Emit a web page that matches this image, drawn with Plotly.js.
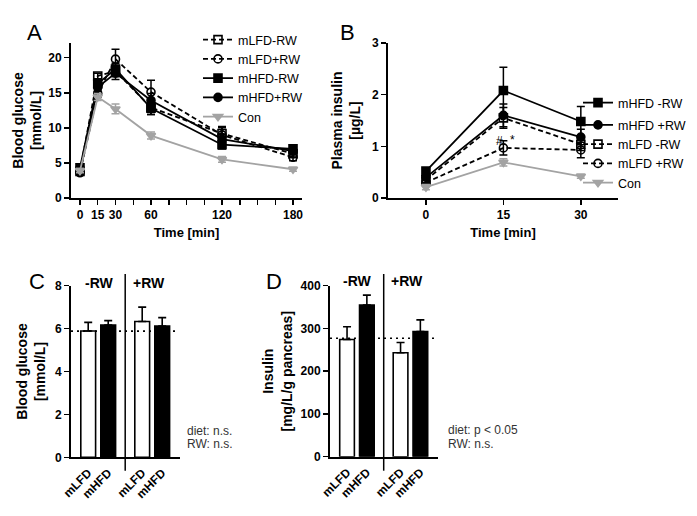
<!DOCTYPE html>
<html><head><meta charset="utf-8">
<script src="https://cdn.plot.ly/plotly-3.0.1.min.js"></script>
<style>html,body{margin:0;padding:0;background:#fff}#chart{width:697px;height:516px}</style>
</head><body><div id="chart"></div>
<script>
// ---- Panel A: blood glucose during GTT ----
const timeA = [0, 15, 30, 60, 120, 180];
const glucA_mLFD_minusRW = [3.8, 17.4, 18.1, 12.9, 9.2, 6.3];
const glucA_mLFD_plusRW  = [3.6, 14.9, 19.8, 15.1, 9.0, 5.8];
const glucA_mHFD_minusRW = [4.3, 16.3, 18.4, 12.8, 7.6, 7.0];
const glucA_mHFD_plusRW  = [3.7, 15.8, 17.8, 13.9, 8.4, 6.7];
const glucA_Con          = [3.9, 14.4, 12.7, 8.9, 5.5, 4.1];
const errA_mLFD_minusRW = [0.3, 0.4, 0.8, 1.0, 0.8, 0.5];
const errA_mLFD_plusRW  = [0.3, 0.5, 1.4, 1.7, 1.2, 0.5];
const errA_mHFD_minusRW = [0.4, 0.6, 0.8, 0.9, 0.6, 0.6];
const errA_mHFD_plusRW  = [0.3, 0.6, 0.9, 1.0, 0.7, 0.7];
const errA_Con          = [0.3, 0.5, 0.7, 0.5, 0.4, 0.3];
const tickA = [0, 15, 30, 45, 60, 75, 90, 105, 120, 135, 150, 165, 180];
const tickA_labels = ['0', '15', '30', '', '60', '', '', '', '120', '', '', '', '180'];

// ---- Panel B: plasma insulin ----
const timeB = [0, 15, 30];
const insB_mHFD_minusRW = [0.52, 2.08, 1.48];
const insB_mHFD_plusRW  = [0.40, 1.60, 1.18];
const insB_mLFD_minusRW = [0.35, 1.55, 1.04];
const insB_mLFD_plusRW  = [0.30, 0.97, 0.93];
const insB_Con          = [0.21, 0.69, 0.42];
const errB_mHFD_minusRW = [0.05, 0.45, 0.29];
const errB_mHFD_plusRW  = [0.05, 0.22, 0.15];
const errB_mLFD_minusRW = [0.05, 0.20, 0.12];
const errB_mLFD_plusRW  = [0.05, 0.14, 0.15];
const errB_Con          = [0.05, 0.07, 0.04];

// ---- Panels C & D: bars ----
const barDiet  = ['mLFD', 'mHFD', 'mLFD', 'mHFD'];
const barGroup = ['-RW', '-RW', '+RW', '+RW'];
const glucC     = [5.89, 6.16, 6.33, 6.12];
const glucC_err = [0.40, 0.21, 0.67, 0.39];
const glucC_ref = 5.88;
const insD      = [274, 355, 243, 293];
const insD_err  = [30, 23, 24, 27];
const insD_ref  = 277;

// ---- helpers ----
const FONT = 'Liberation Sans, Arial, sans-serif';
const GREY = '#a3a3a3';
const W = 697, H = 516;
const px = v => v / W, py = v => 1 - v / H;

function lineTrace(name, x, y, err, sym, dash, color, xa, ya, legend, group) {
  return {
    type: 'scatter', mode: 'lines+markers', name: name, x: x, y: y,
    xaxis: xa, yaxis: ya, legend: legend, legendgroup: group,
    line: {color: color, width: 1.8, dash: dash},
    marker: {symbol: sym, size: 8, color: color, line: {color: color, width: 1.6}},
    error_y: {type: 'data', array: err, visible: true, color: color, thickness: 1.5, width: 4},
    cliponaxis: false
  };
}
const DASH = '5px,3px';
const traces = [
  lineTrace('mLFD-RW', timeA, glucA_mLFD_minusRW, errA_mLFD_minusRW, 'square-open', DASH, '#000', 'x', 'y', 'legend', 'a'),
  lineTrace('mLFD+RW', timeA, glucA_mLFD_plusRW, errA_mLFD_plusRW, 'circle-open', DASH, '#000', 'x', 'y', 'legend', 'a'),
  lineTrace('mHFD-RW', timeA, glucA_mHFD_minusRW, errA_mHFD_minusRW, 'square', 'solid', '#000', 'x', 'y', 'legend', 'a'),
  lineTrace('mHFD+RW', timeA, glucA_mHFD_plusRW, errA_mHFD_plusRW, 'circle', 'solid', '#000', 'x', 'y', 'legend', 'a'),
  lineTrace('Con', timeA, glucA_Con, errA_Con, 'triangle-down', 'solid', GREY, 'x', 'y', 'legend', 'a'),

  lineTrace('mHFD -RW', timeB, insB_mHFD_minusRW, errB_mHFD_minusRW, 'square', 'solid', '#000', 'x2', 'y2', 'legend2', 'b1'),
  lineTrace('mHFD +RW', timeB, insB_mHFD_plusRW, errB_mHFD_plusRW, 'circle', 'solid', '#000', 'x2', 'y2', 'legend2', 'b2'),
  lineTrace('mLFD -RW', timeB, insB_mLFD_minusRW, errB_mLFD_minusRW, 'square-open', DASH, '#000', 'x2', 'y2', 'legend2', 'b2'),
  lineTrace('mLFD +RW', timeB, insB_mLFD_plusRW, errB_mLFD_plusRW, 'circle-open', DASH, '#000', 'x2', 'y2', 'legend2', 'b2'),
  lineTrace('Con', timeB, insB_Con, errB_Con, 'triangle-down', 'solid', GREY, 'x2', 'y2', 'legend2', 'b2')
];

// bar positions: two groups of two, separated by a gap
const GAP = 0.7;
const barPos = barGroup.map((g, i) => 1 + i + (i >= 2 ? GAP : 0));
const barFill = barDiet.map(d => d === 'mLFD' ? '#fff' : '#000');
function barTrace(y, err, xa, ya) {
  return {
    type: 'bar', x: barPos, y: y, xaxis: xa, yaxis: ya, width: 0.74, showlegend: false,
    marker: {color: barFill, line: {color: '#000', width: 1.6}},
    error_y: {type: 'data', array: err, arrayminus: err.map(() => 0), symmetric: false,
              visible: true, color: '#000', thickness: 1.6, width: 4}
  };
}
traces.push(barTrace(glucC, glucC_err, 'x3', 'y3'));
traces.push(barTrace(insD, insD_err, 'x4', 'y4'));

const tickFont = {family: FONT, size: 12, color: '#000', weight: 'bold'};
const titleFont = {family: FONT, size: 14, color: '#000', weight: 'bold'};
const axBase = {
  showline: true, linecolor: '#000', linewidth: 2, mirror: false,
  ticks: 'outside', ticklen: 5, tickwidth: 1.5, tickcolor: '#000',
  showgrid: false, zeroline: false, tickfont: tickFont, automargin: false, fixedrange: true
};
const barRange = [0.14, 5.59];
// category labels drawn by the axis itself, rotated 45 degrees
const barXaxis = (domain, anchor) => Object.assign({}, axBase, {
  domain: domain, anchor: anchor, range: barRange, tickmode: 'array',
  tickvals: barPos, ticktext: barDiet, ticks: 'outside', ticklen: 2, tickcolor: 'rgba(0,0,0,0)',
  showticklabels: true, tickangle: 315,
  tickfont: {family: FONT, size: 12, color: '#000', weight: 'bold'}
});

const layout = {
  width: W, height: H, margin: {l: 0, r: 0, t: 0, b: 0},
  paper_bgcolor: '#fff', plot_bgcolor: 'rgba(0,0,0,0)',
  font: {family: FONT, color: '#000'},
  xaxis: Object.assign({}, axBase, {
    domain: [px(71), px(302)], anchor: 'y', range: [-7.6, 187.6],
    tickmode: 'array', tickvals: tickA, ticktext: tickA_labels,
    title: {text: 'Time [min]', font: {family: FONT, size: 13, color: '#000', weight: 'bold'}, standoff: 6}
  }),
  yaxis: Object.assign({}, axBase, {
    domain: [py(198), py(43)], anchor: 'x', range: [0, 22.1], tickvals: [0, 5, 10, 15, 20],
    title: {text: 'Blood glucose<br>[mmol/L]', font: titleFont, standoff: 3}
  }),
  xaxis2: Object.assign({}, axBase, {
    domain: [px(388), px(618)], anchor: 'y2', range: [-7.35, 37.2], tickvals: [0, 15, 30],
    title: {text: 'Time [min]', font: {family: FONT, size: 13, color: '#000', weight: 'bold'}, standoff: 6}
  }),
  yaxis2: Object.assign({}, axBase, {
    domain: [py(198), py(43)], anchor: 'x2', range: [0, 3], tickvals: [0, 1, 2, 3],
    title: {text: 'Plasma insulin<br>[µg/L]', font: titleFont, standoff: 8}
  }),
  xaxis3: barXaxis([px(71), px(180)], 'y3'),
  yaxis3: Object.assign({}, axBase, {
    domain: [py(457.3), py(285.7)], anchor: 'x3', range: [0, 8], tickvals: [0, 2, 4, 6, 8],
    title: {text: 'Blood glucose<br>[mmol/L]', font: titleFont, standoff: 6}
  }),
  xaxis4: barXaxis([px(330), px(438)], 'y4'),
  yaxis4: Object.assign({}, axBase, {
    domain: [py(456.7), py(285.7)], anchor: 'x4', range: [0, 400], tickvals: [0, 100, 200, 300, 400],
    title: {text: 'Insulin<br>[mg/L/g pancreas]', font: titleFont, standoff: 5}
  }),
  legend: {x: px(198), y: py(25), xanchor: 'left', yanchor: 'top', bgcolor: 'rgba(0,0,0,0)',
           font: {family: FONT, size: 12.5, color: '#000'}, itemwidth: 30, tracegroupgap: 0},
  legend2: {x: px(578), y: py(88), xanchor: 'left', yanchor: 'top', bgcolor: 'rgba(0,0,0,0)',
            font: {family: FONT, size: 12.5, color: '#000'}, itemwidth: 30, tracegroupgap: 3},
  shapes: [
    {type: 'line', xref: 'x3', yref: 'paper', x0: 2.85, x1: 2.85, y0: py(470.7), y1: py(274), line: {color: '#000', width: 1.5}},
    {type: 'line', xref: 'x4', yref: 'paper', x0: 2.85, x1: 2.85, y0: py(470.7), y1: py(274), line: {color: '#000', width: 1.5}},
    {type: 'line', xref: 'x3', yref: 'y3', x0: barRange[0], x1: 5.43, y0: glucC_ref, y1: glucC_ref, line: {color: '#000', width: 1.6, dash: '2px,4px'}},
    {type: 'line', xref: 'x4', yref: 'y4', x0: barRange[0], x1: 5.47, y0: insD_ref, y1: insD_ref, line: {color: '#000', width: 1.6, dash: '2px,4px'}}
  ],
  annotations: [
    {text: 'A', xref: 'paper', yref: 'paper', x: px(25), y: py(18), showarrow: false, font: {family: FONT, size: 22}},
    {text: 'B', xref: 'paper', yref: 'paper', x: px(347), y: py(18), showarrow: false, font: {family: FONT, size: 22}},
    {text: 'C', xref: 'paper', yref: 'paper', x: px(27), y: py(281), showarrow: false, font: {family: FONT, size: 22}},
    {text: 'D', xref: 'paper', yref: 'paper', x: px(274), y: py(281), showarrow: false, font: {family: FONT, size: 22}},
    {text: '#', xref: 'x2', yref: 'y2', x: 14.3, y: 1.11, showarrow: false, font: {family: FONT, size: 12}},
    {text: '*', xref: 'x2', yref: 'y2', x: 16.7, y: 1.13, showarrow: false, font: {family: FONT, size: 12}},
    {text: '-RW', xref: 'x3', yref: 'paper', x: 1.55, y: py(283), showarrow: false, font: {family: FONT, size: 14, weight: 'bold'}},
    {text: '+RW', xref: 'x3', yref: 'paper', x: 4.05, y: py(283), showarrow: false, font: {family: FONT, size: 14, weight: 'bold'}},
    {text: '-RW', xref: 'x4', yref: 'paper', x: 1.55, y: py(281), showarrow: false, font: {family: FONT, size: 14, weight: 'bold'}},
    {text: '+RW', xref: 'x4', yref: 'paper', x: 4.05, y: py(281), showarrow: false, font: {family: FONT, size: 14, weight: 'bold'}},
    {text: 'diet: n.s.', xref: 'paper', yref: 'paper', x: px(185), y: py(440), xanchor: 'left', showarrow: false, font: {family: FONT, size: 12, color: '#333'}},
    {text: 'RW: n.s.', xref: 'paper', yref: 'paper', x: px(185), y: py(453), xanchor: 'left', showarrow: false, font: {family: FONT, size: 12, color: '#333'}},
    {text: 'diet: p < 0.05', xref: 'paper', yref: 'paper', x: px(446), y: py(439), xanchor: 'left', showarrow: false, font: {family: FONT, size: 12, color: '#333'}},
    {text: 'RW: n.s.', xref: 'paper', yref: 'paper', x: px(446), y: py(453), xanchor: 'left', showarrow: false, font: {family: FONT, size: 12, color: '#333'}}
  ]
};

Plotly.newPlot('chart', traces, layout, {displayModeBar: false, staticPlot: true});
</script>
</body></html>
